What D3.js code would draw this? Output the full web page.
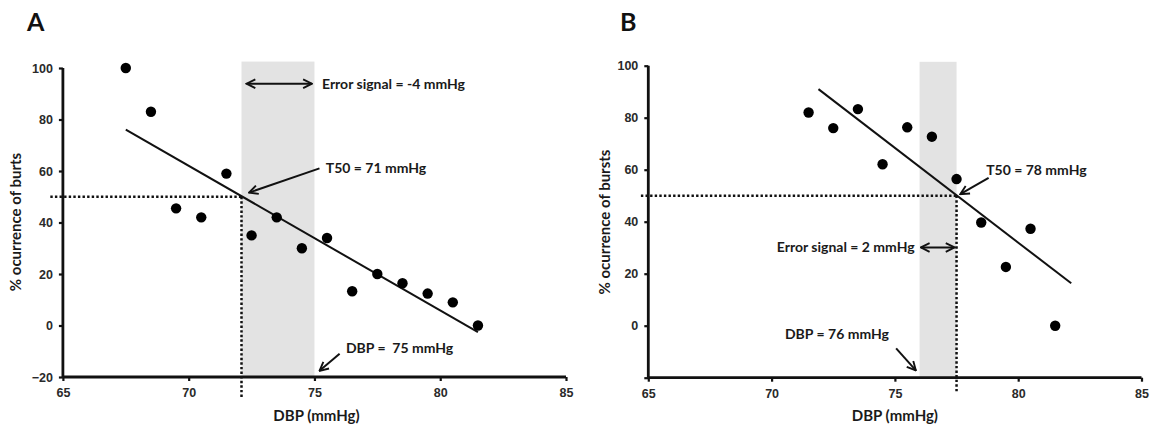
<!DOCTYPE html>
<html>
<head>
<meta charset="utf-8">
<script src="https://cdn.jsdelivr.net/npm/d3@7/dist/d3.min.js"></script>
<style>
  html, body { margin: 0; padding: 0; background: #fff; }
  svg { display: block; font-family: Lato, "Open Sans", sans-serif; }
  .tick text { font-weight: 700; fill: #2a2a2a; font-size: 12.5px; }
  .ann { font-weight: 700; fill: #1a1a1a; font-size: 14px; }
  .title { font-weight: 700; fill: #1a1a1a; font-size: 15px; }
  .letter { font-weight: 700; fill: #111; font-size: 25px; }
</style>
</head>
<body>
<svg id="chart" width="1159" height="434"></svg>
<script>
// ---- Panel A: burst occurrence vs diastolic pressure ----
const dbpA = [67.5, 68.5, 69.5, 70.5, 71.5, 72.5, 73.5, 74.5, 75.5, 76.5, 77.5, 78.5, 79.5, 80.5, 81.5];
const burstsA = [100, 83, 45.5, 42, 59, 35, 42, 30, 34, 13.3, 20, 16.4, 12.4, 9, 0];
const trendXA = [67.5, 81.5];
const trendYA = [76.1, -2.6];
const t50A = 72.1;          // crossing of the fit with 50 %
const bandA = [72.1, 75.0]; // error-signal band
const yTicksA = [-20, 0, 20, 40, 60, 80, 100];

// ---- Panel B ----
const dbpB = [71.5, 72.5, 73.5, 74.5, 75.5, 76.5, 77.5, 78.5, 79.5, 80.5, 81.5];
const burstsB = [82, 76, 83.3, 62.1, 76.3, 72.7, 56.4, 39.7, 22.6, 37.3, 0];
const trendXB = [71.9, 82.15];
const trendYB = [91.0, 16.3];
const t50B = 77.5;
const bandB = [76.0, 77.5];
const yTicksB = [-20, 0, 20, 40, 60, 80, 100];
const yTickLabelsB = ["", "0", "20", "40", "60", "80", "100"];

const xTicks = [65, 70, 75, 80, 85];

const svg = d3.select("#chart");

// arrowhead (open V) marker
const defs = svg.append("defs");
defs.append("marker")
  .attr("id", "head")
  .attr("viewBox", "0 0 10 10")
  .attr("refX", 9).attr("refY", 5)
  .attr("markerWidth", 5.5).attr("markerHeight", 5.5)
  .attr("markerUnits", "strokeWidth")
  .attr("orient", "auto-start-reverse")
  .append("path")
  .attr("d", "M1,1 L9,5 L1,9")
  .attr("fill", "none").attr("stroke", "#111").attr("stroke-width", 1.7)
  .attr("stroke-linejoin", "miter");

function panel(cfg) {
  const x = d3.scaleLinear().domain([65, 85]).range(cfg.xRange);
  const y = d3.scaleLinear().domain([-20, 100]).range(cfg.yRange);
  const g = svg.append("g");

  // shaded band
  g.append("rect")
    .attr("x", x(cfg.band[0]))
    .attr("width", x(cfg.band[1]) - x(cfg.band[0]))
    .attr("y", y(cfg.bandTop))
    .attr("height", y(-20) - y(cfg.bandTop))
    .attr("fill", "#e3e3e3");

  // dotted guides at 50 %
  g.append("line")
    .attr("x1", x(cfg.hStart)).attr("x2", x(cfg.t50))
    .attr("y1", y(50)).attr("y2", y(50))
    .attr("stroke", "#111").attr("stroke-width", 2.5).attr("stroke-dasharray", "2.4,2.2");
  g.append("line")
    .attr("x1", x(cfg.t50)).attr("x2", x(cfg.t50))
    .attr("y1", y(50)).attr("y2", y(cfg.vEnd))
    .attr("stroke", "#111").attr("stroke-width", 2.5).attr("stroke-dasharray", "2.4,2.2");

  // axes
  const xAxis = d3.axisBottom(x).tickValues(xTicks).tickSize(4).tickPadding(5).tickFormat(d3.format("d"));
  const yAxis = d3.axisLeft(y).tickValues(cfg.yTicks).tickSize(4).tickPadding(6)
    .tickFormat((d, i) => cfg.yLabels ? cfg.yLabels[i] : d3.format("d")(d));

  const gx = g.append("g").attr("transform", `translate(0,${y(-20)})`).call(xAxis);
  const gy = g.append("g").attr("transform", `translate(${x(65)},0)`).call(yAxis);
  [gx, gy].forEach(a => {
    a.select(".domain").attr("stroke", "#111").attr("stroke-width", 2.8);
    a.selectAll(".tick line").attr("stroke", "#111").attr("stroke-width", 2.2);
  });
  gx.select(".domain").attr("d", `M${x(65)},0H${x(85)}`);
  gy.select(".domain").attr("d", `M0,${y(100)}V${y(-20)}`);
  gx.selectAll(".tick text").attr("dy", "0.9em");

  // fitted line
  g.append("line")
    .attr("x1", x(cfg.trendX[0])).attr("y1", y(cfg.trendY[0]))
    .attr("x2", x(cfg.trendX[1])).attr("y2", y(cfg.trendY[1]))
    .attr("stroke", "#111").attr("stroke-width", 2);

  // observations
  g.selectAll("circle.pt")
    .data(d3.zip(cfg.xs, cfg.ys))
    .join("circle")
    .attr("class", "pt")
    .attr("cx", d => x(d[0])).attr("cy", d => y(d[1]))
    .attr("r", 5.2).attr("fill", "#000");

  // annotation arrows
  cfg.arrows.forEach(a => {
    const ln = g.append("line")
      .attr("x1", x(a.from[0])).attr("y1", y(a.from[1]))
      .attr("x2", x(a.to[0])).attr("y2", y(a.to[1]))
      .attr("stroke", "#111").attr("stroke-width", 2)
      .attr("marker-end", "url(#head)");
    if (a.both) ln.attr("marker-start", "url(#head)");
  });

  // annotation text
  cfg.notes.forEach(n => {
    g.append("text").attr("class", "ann")
      .attr("x", x(n.at[0])).attr("y", y(n.at[1]))
      .attr("dy", "0.35em")
      .attr("text-anchor", n.anchor || "start")
      .attr("xml:space", "preserve")
      .text(n.text);
  });

  // axis titles and panel letter
  g.append("text").attr("class", "title")
    .attr("x", (x(65) + x(85)) / 2 + cfg.xTitleShift).attr("y", 421)
    .attr("text-anchor", "middle").text("DBP (mmHg)");
  g.append("text").attr("class", "title")
    .attr("transform", `translate(${cfg.yTitleX},${cfg.yTitleY}) rotate(-90)`)
    .attr("text-anchor", "middle").text(cfg.yTitle);
  g.append("text").attr("class", "letter")
    .attr("x", cfg.letterX).attr("y", 31).text(cfg.letter);
}

panel({
  xRange: [62.9, 566], yRange: [377, 68],
  xs: dbpA, ys: burstsA, trendX: trendXA, trendY: trendYA,
  t50: t50A, band: bandA, bandTop: 102.5, hStart: 64.5, vEnd: -28,
  yTicks: yTicksA,
  arrows: [
    { from: [72.3, 93.9], to: [74.9, 93.9], both: true },
    { from: [75.2, 61], to: [72.4, 51.6] },
    { from: [76.0, -11], to: [75.2, -17.6] }
  ],
  notes: [
    { at: [75.3, 93.9], text: "Error signal = -4 mmHg" },
    { at: [75.45, 61], text: "T50 = 71 mmHg" },
    { at: [76.25, -8.8], text: "DBP =  75 mmHg" }
  ],
  yTitle: "% ocurrence of burts", yTitleX: 21, yTitleY: 222, xTitleShift: 2,
  letter: "A", letterX: 27
});

panel({
  xRange: [648.3, 1141.5], yRange: [377.7, 65.7],
  xs: dbpB, ys: burstsB, trendX: trendXB, trendY: trendYB,
  t50: t50B, band: bandB, bandTop: 101.5, hStart: 64.7, vEnd: -26,
  yTicks: yTicksB, yLabels: yTickLabelsB,
  arrows: [
    { from: [76.05, 30.1], to: [77.42, 30.1], both: true },
    { from: [78.8, 56.9], to: [77.65, 50.6] },
    { from: [75.05, -8.7], to: [75.85, -17.2] }
  ],
  notes: [
    { at: [75.8, 30.1], text: "Error signal = 2 mmHg", anchor: "end" },
    { at: [78.7, 59.8], text: "T50 = 78 mmHg" },
    { at: [72.65, -3.3], text: "DBP = 76 mmHg", anchor: "middle" }
  ],
  yTitle: "% ocurrence of bursts", yTitleX: 610, yTitleY: 222, xTitleShift: 0,
  letter: "B", letterX: 620
});
</script>
</body>
</html>
